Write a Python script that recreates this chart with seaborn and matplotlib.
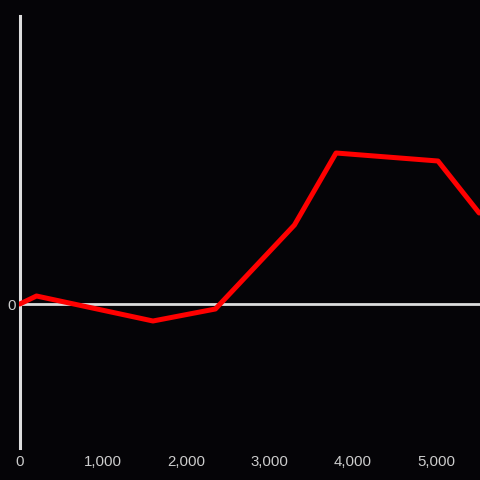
import matplotlib
matplotlib.use("Agg")
import matplotlib.pyplot as plt
import seaborn as sns
import pandas as pd

# values (y has no scale, only the zero line is labelled)
x_vals = [0, 200, 1600, 2350, 3300, 3800, 5025, 5520]
y_vals = [0, 8, -17, -5, 79, 151, 143, 91]
x_ticks = [0, 1000, 2000, 3000, 4000, 5000]
x_labels = ["0", "1,000", "2,000", "3,000", "4,000", "5,000"]

df = pd.DataFrame({"x": x_vals, "y": y_vals})

sns.set_style("dark")
plt.rcParams["font.family"] = ["Liberation Sans", "DejaVu Sans"]

bg = "#050407"
fig = plt.figure(figsize=(4.8, 4.8), dpi=100, facecolor=bg)
ax = fig.add_axes([19 / 480, 32 / 480, 461 / 480, 432 / 480])
ax.set_facecolor(bg)

ax.axhline(0, color="#dddddd", lw=2.0, zorder=1)
sns.lineplot(data=df, x="x", y="y", ax=ax, color="#ff0000", lw=3.6, zorder=3)

ax.set_xlim(-10, 5530)
ax.set_ylim(-144, 288)
ax.set_xticks(x_ticks)
ax.set_xticklabels(x_labels)
ax.set_yticks([0])
ax.set_yticklabels(["0"])
ax.tick_params(axis="both", length=0, colors="#cccccc", labelsize=10.8)
ax.tick_params(axis="x", pad=5)
ax.tick_params(axis="y", pad=3)
ax.set_xlabel("")
ax.set_ylabel("")
ax.grid(False)

for s in ["top", "right", "bottom"]:
    ax.spines[s].set_visible(False)
ax.spines["left"].set_color("#dddddd")
ax.spines["left"].set_linewidth(2.2)
ax.spines["left"].set_position(("data", 0))

fig.savefig("out.png", dpi=100, facecolor=bg)
